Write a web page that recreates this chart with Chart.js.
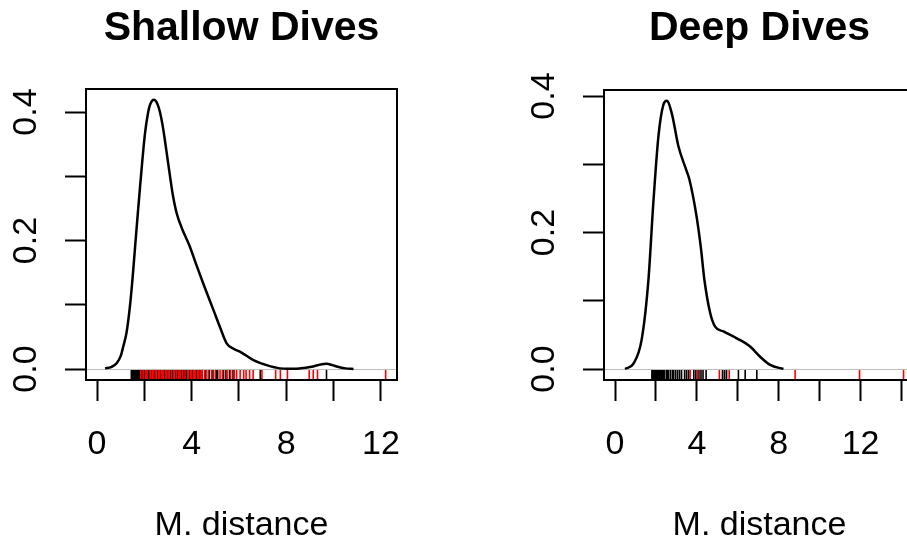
<!DOCTYPE html>
<html>
<head>
<meta charset="utf-8">
<script src="https://cdn.jsdelivr.net/npm/chart.js@4/dist/chart.umd.min.js"></script>
<style>
  html, body { margin: 0; padding: 0; background: #fff; overflow: hidden; width: 907px; height: 543px; }
  canvas { position: absolute; top: 0; }
  #shallow { left: 0; }
  #deep { left: 518px; }
</style>
</head>
<body>
<canvas id="shallow" width="453" height="543"></canvas>
<canvas id="deep" width="453" height="543"></canvas>
<script>
  // density curve, shallow dives
  const shallowX = [0.34, 0.6, 0.83, 1.0, 1.11, 1.25, 1.39, 1.5, 1.61, 1.72, 1.82, 1.93, 2.03, 2.14, 2.24, 2.41, 2.55, 2.66, 2.77, 2.87, 3.09, 3.2, 3.37, 3.6, 3.93, 4.2, 4.49, 4.92, 5.2, 5.48, 5.75, 6.04, 6.3, 6.61, 7.17, 7.73, 8.1, 8.44, 8.8, 9.14, 9.45, 9.71, 9.95, 10.13, 10.5, 10.84];
  const shallowY = [0.001, 0.003, 0.009, 0.02, 0.035, 0.057, 0.097, 0.14, 0.19, 0.24, 0.284, 0.33, 0.367, 0.395, 0.411, 0.419, 0.413, 0.400, 0.38, 0.356, 0.299, 0.272, 0.242, 0.218, 0.190, 0.162, 0.133, 0.092, 0.065, 0.040, 0.032, 0.027, 0.021, 0.014, 0.006, 0.001, 0.0005, 0.0005, 0.002, 0.004, 0.007, 0.008, 0.006, 0.004, 0.001, 0];

  // density curve, deep dives
  const deepX = [0.49, 0.9, 1.3, 1.63, 1.87, 2.12, 2.36, 2.53, 2.77, 3.1, 3.5, 3.64, 3.96, 4.19, 4.37, 4.65, 4.89, 5.3, 5.95, 6.6, 7.09, 7.58, 8.23];
  const deepY = [0, 0.008, 0.043, 0.13, 0.243, 0.341, 0.387, 0.393, 0.375, 0.326, 0.29, 0.277, 0.228, 0.179, 0.130, 0.082, 0.062, 0.055, 0.045, 0.033, 0.018, 0.006, 0];

  // rug marks
  const shallowRugBlack = [1.45, 1.5, 1.55, 1.6, 1.63, 1.66, 1.7, 1.73, 1.76, 1.8, 1.83, 1.86, 1.9, 1.93, 1.97, 2.0, 2.05, 2.1, 2.15, 2.2, 2.3, 2.38, 2.45, 2.55, 2.7, 2.85, 3.0, 3.1, 3.2, 3.3, 3.4, 3.5, 3.55, 3.6, 3.65, 3.7, 3.75, 3.8, 3.9, 4.05, 4.2, 4.35, 4.6, 4.75, 4.9, 5.05, 5.1, 5.35, 5.45, 5.6, 5.75, 6.9, 9.7];
  const shallowRugRed = [1.85, 1.95, 2.05, 2.12, 2.25, 2.33, 2.4, 2.5, 2.6, 2.65, 2.75, 2.8, 2.9, 2.95, 3.05, 3.15, 3.25, 3.35, 3.45, 3.52, 3.62, 3.72, 3.85, 3.95, 4.0, 4.1, 4.15, 4.25, 4.3, 4.4, 4.45, 4.55, 4.7, 4.85, 5.0, 5.2, 5.3, 5.5, 5.65, 5.8, 5.9, 6.05, 6.2, 6.3, 6.45, 6.6, 6.97, 7.55, 7.75, 8.05, 8.97, 9.14, 9.32, 12.2];
  const deepRugBlack = [1.8, 1.85, 1.9, 1.95, 2.0, 2.05, 2.1, 2.15, 2.2, 2.25, 2.3, 2.35, 2.4, 2.5, 2.55, 2.6, 2.7, 2.8, 2.85, 2.95, 3.05, 3.15, 3.25, 3.4, 3.5, 3.6, 3.85, 3.95, 4.1, 4.2, 4.3, 4.45, 5.25, 5.35, 5.45, 6.03, 6.36, 6.93];
  const deepRugRed = [3.67, 4.04, 5.1, 5.58, 8.8, 11.95, 14.1];

  // axes
  const shallowXTicks = [0, 2, 4, 6, 8, 10, 12];
  const shallowXLabels = ['0', '', '4', '', '8', '', '12'];
  const deepXTicks = [0, 2, 4, 6, 8, 10, 12, 14];
  const deepXLabels = ['0', '', '4', '', '8', '', '12', ''];
  const yTicks = [0, 0.1, 0.2, 0.3, 0.4];
  const yLabels = ['0.0', '', '0.2', '', '0.4'];

  const FONT = '"Liberation Sans", Arial, Helvetica, sans-serif';
  Chart.defaults.font.family = FONT;
  Chart.defaults.color = '#000';

  const rugPlugin = {
    id: 'rug',
    beforeDatasetsDraw(chart) {
      const { ctx, chartArea: a, scales } = chart;
      const y0 = Math.round(scales.y.getPixelForValue(0)) + 0.5;
      ctx.save();
      ctx.strokeStyle = '#bebebe';
      ctx.lineWidth = 1;
      ctx.beginPath();
      ctx.moveTo(a.left, y0);
      ctx.lineTo(a.right, y0);
      ctx.stroke();
      ctx.restore();
    },
    afterDatasetsDraw(chart, args, opts) {
      const { ctx, chartArea: a, scales } = chart;
      ctx.save();
      ctx.lineWidth = 1.6;
      [[opts.black, '#000000'], [opts.red, '#ff0000']].forEach(([vals, col]) => {
        ctx.strokeStyle = col;
        ctx.beginPath();
        vals.forEach((v) => {
          const px = scales.x.getPixelForValue(v);
          ctx.moveTo(px, a.bottom);
          ctx.lineTo(px, a.bottom - 10);
        });
        ctx.stroke();
      });
      ctx.strokeStyle = '#000';
      ctx.lineWidth = 2;
      ctx.strokeRect(a.left, a.top, a.right - a.left, a.bottom - a.top);
      ctx.restore();
    },
  };

  function tickGrid() {
    return { drawOnChartArea: false, drawTicks: true, tickLength: 21, tickWidth: 2, tickColor: '#000' };
  }

  function makeChart(id, cfg) {
    const pts = cfg.xs.map((x, i) => ({ x, y: cfg.ys[i] }));
    new Chart(document.getElementById(id), {
      type: 'line',
      data: {
        datasets: [{
          data: pts,
          borderColor: '#000',
          borderWidth: 2.5,
          pointRadius: 0,
          fill: false,
          cubicInterpolationMode: 'monotone',
        }],
      },
      options: {
        responsive: false,
        animation: false,
        devicePixelRatio: 1,
        layout: { padding: { left: 0, right: 56, top: 0, bottom: 0 } },
        plugins: {
          legend: { display: false },
          tooltip: { enabled: false },
          title: {
            display: true,
            text: cfg.title,
            fullSize: false,
            color: '#000',
            font: { size: 41, weight: 'bold' },
            padding: { top: 4, bottom: cfg.titleGap },
          },
          rug: { black: cfg.rugBlack, red: cfg.rugRed },
        },
        scales: {
          x: {
            type: 'linear',
            min: cfg.xMin,
            max: cfg.xMax,
            afterBuildTicks: (s) => { s.ticks = cfg.xTicks.map((v) => ({ value: v })); },
            afterFit: (s) => { s.height = 163; },
            ticks: {
              autoSkip: false,
              maxRotation: 0,
              padding: 23,
              font: { size: 34 },
              callback: (v, i) => cfg.xLabels[i],
            },
            grid: tickGrid(),
            border: { display: false },
            title: {
              display: true,
              text: 'M. distance',
              font: { size: 34, lineHeight: 1 },
              padding: { top: 0, bottom: 0 },
            },
          },
          y: {
            min: cfg.yMin,
            max: cfg.yMax,
            afterBuildTicks: (s) => { s.ticks = yTicks.map((v) => ({ value: v })); },
            afterFit: (s) => { s.width = 86; },
            ticks: {
              autoSkip: false,
              minRotation: 90,
              maxRotation: 90,
              crossAlign: 'center',
              padding: 15,
              font: { size: 34 },
              callback: (v, i) => yLabels[i],
            },
            grid: tickGrid(),
            border: { display: false },
          },
        },
      },
      plugins: [rugPlugin],
    });
  }

  makeChart('shallow', {
    title: 'Shallow Dives', titleGap: 35.8,
    xs: shallowX, ys: shallowY,
    rugBlack: shallowRugBlack, rugRed: shallowRugRed,
    xMin: -0.465, xMax: 12.68, yMin: -0.0171, yMax: 0.4358,
    xTicks: shallowXTicks, xLabels: shallowXLabels,
  });

  makeChart('deep', {
    title: 'Deep Dives', titleGap: 36.8,
    xs: deepX, ys: deepY,
    rugBlack: deepRugBlack, rugRed: deepRugRed,
    xMin: -0.54, xMax: 14.66, yMin: -0.0161, yMax: 0.4088,
    xTicks: deepXTicks, xLabels: deepXLabels,
  });
</script>
</body>
</html>
